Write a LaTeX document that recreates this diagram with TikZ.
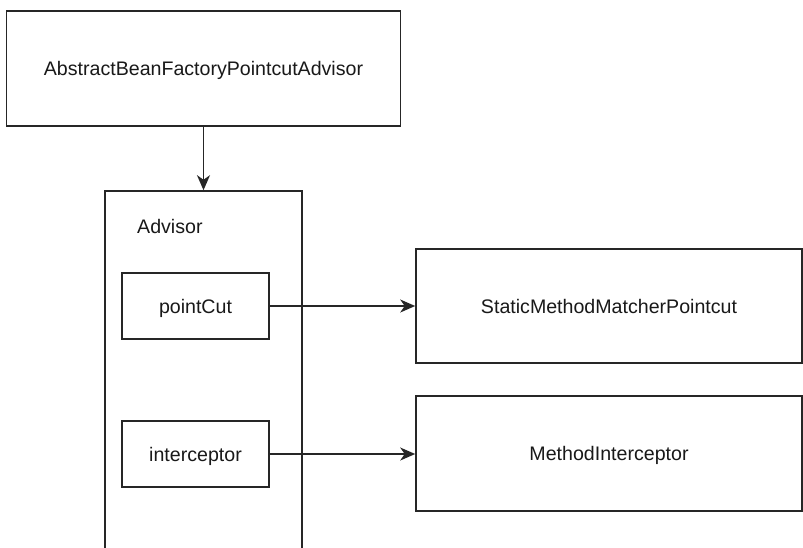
\documentclass[tikz,border=0pt]{standalone}
\usepackage{fontspec}
\setmainfont{Liberation Sans}
\usetikzlibrary{arrows.meta}
\begin{document}
\begin{tikzpicture}[x=1pt,y=-1pt,
  lbl/.style={font=\fontsize{19.6}{23}\selectfont, text=black!90, text depth=0pt},
  box/.style={lbl, draw=black!85, line width=1.6pt, fill=white, inner sep=0pt},
  conn/.style={draw=black!85, line width=1.6pt, -{Stealth[length=15pt,width=13pt,inset=4.5pt]}}]
\useasboundingbox (0,0) rectangle (803,547);
\clip (0,0) rectangle (803,547);
% parent class
\node[box, minimum width=394pt, minimum height=115pt] (abstract) at (203.5,68.5) {AbstractBeanFactoryPointcutAdvisor};
% advisor container, running past the lower edge
\node[box, minimum width=197pt, minimum height=380pt] (advisor) at (203.5,381) {};
\node[lbl, anchor=west, inner sep=0pt] (advlabel) at (137,226) {Advisor};
% members
\node[box, minimum width=147pt, minimum height=66pt] (pointcut) at (195.5,306) {pointCut};
\node[box, minimum width=147pt, minimum height=66pt] (interceptor) at (195.5,454) {interceptor};
% implementations
\node[box, minimum width=386pt, minimum height=114pt] (static) at (609,306) {StaticMethodMatcherPointcut};
\node[box, minimum width=386pt, minimum height=115pt] (method) at (609,453.5) {MethodInterceptor};
% connectors
\draw[conn] (abstract.south) -- (abstract.south |- advisor.north);
\draw[conn] (pointcut.east) -- (static.west);
\draw[conn] (interceptor.east) -- (interceptor.east -| method.west);
\end{tikzpicture}
\end{document}
